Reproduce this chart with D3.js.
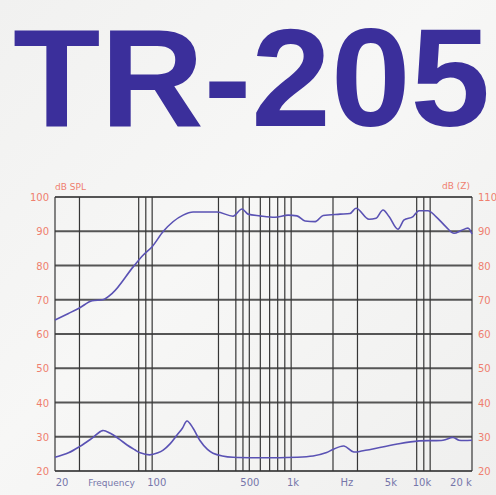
<!DOCTYPE html>
<html><head><meta charset="utf-8">
<script src="https://cdn.jsdelivr.net/npm/d3@7"></script>
<style>html,body{margin:0;padding:0;background:#f3f3f1;}svg{display:block;}</style>
</head><body><div id="chart"></div>
<script>
// ---- data ----
const title = "TR-205";
const splFreq = [20,25,30,37,44,52,73,86,100,120,167,197,293,382,443,489,597,765,950,1100,1260,1490,1700,2250,2650,2930,3630,4080,4580,5060,5870,6490,7530,8310,9650,11000,13000,14850,16700,18700,20000];
const splDb   = [64.1,66,67.6,69.7,70,72,79.6,83,85.5,89.9,94.7,95.6,95.6,94.4,96.5,95,94.5,94.1,94.7,94.5,93,92.8,94.6,95,95.2,96.7,93.5,93.8,96.2,94.3,90.6,93.3,94.3,96,96,94.3,91.3,89.4,90.2,90.9,89.2];
const impFreq = [20,25,30,37,44,50,58,66,75,82,96,110,120,135,151,165,178,197,220,250,274,320,382,1436,1800,2000,2400,2790,3290,5680,8310,12360,14600,16100,20000];
const impDb   = [24,25.3,27.1,29.6,31.8,31,29.3,27.6,26.2,25.3,24.7,25.3,26.1,28,30.5,32.5,34.6,32.5,29,26.3,25.2,24.4,24,24.4,25.4,26.3,27.3,25.6,25.9,27.8,28.8,29,29.8,29,29];
const gridFreqs = [20,30,80,90,100,300,400,450,500,600,700,800,900,1000,2000,3000,8000,9000,10000,20000];
const yTicks = [20,30,40,50,60,70,80,90,100];
const leftLabels = ["20","30","40","50","60","70","80","90","100"];
const rightLabels = ["20","30","40","50","60","70","80","90","110"];
const xLabels = ["20","Frequency","100","500","1k","Hz","5k","10k","20 k"];
const xLabelPos = [22.5,51,108,505,1032,2520,5220,8730,16640];

// ---- layout ----
const W = 496, H = 495;
const L = 55, R = 472, T = 197, B = 471;

const svg = d3.select("#chart").append("svg").attr("width", W).attr("height", H);
const defs = svg.append("defs");
const g = defs.append("linearGradient").attr("id","bg").attr("x1","0").attr("y1","0").attr("x2","1").attr("y2","1");
g.append("stop").attr("offset","0").attr("stop-color","#f1f1f0");
g.append("stop").attr("offset","0.45").attr("stop-color","#f7f7f6");
g.append("stop").attr("offset","1").attr("stop-color","#efefee");
svg.append("rect").attr("width",W).attr("height",H).attr("fill","url(#bg)");

// title
svg.append("text").attr("x", 13).attr("y", 126)
  .attr("font-family", "Liberation Sans, Arial, sans-serif").attr("font-weight", "bold")
  .attr("font-size", 139).attr("fill", "#3b2f9b")
  .attr("textLength", 477).attr("lengthAdjust", "spacingAndGlyphs")
  .text(title);

const x = d3.scaleLog().domain([20, 20000]).range([L, R]);
const y = d3.scaleLinear().domain([20, 100]).range([B, T]);

// horizontal grid
svg.append("g").selectAll("line").data(yTicks).join("line")
  .attr("x1", L).attr("x2", R).attr("y1", d => y(d)).attr("y2", d => y(d))
  .attr("stroke", "#555").attr("stroke-width", 1.9);
// vertical grid
svg.append("g").selectAll("line").data(gridFreqs).join("line")
  .attr("x1", d => x(d)).attr("x2", d => x(d)).attr("y1", T).attr("y2", B)
  .attr("stroke", "#363636").attr("stroke-width", 1.2);

// curves
const smooth = d3.line().x(d => x(d[0])).y(d => y(d[1])).curve(d3.curveMonotoneX);
const sharp = d3.line().x(d => x(d[0])).y(d => y(d[1])).curve(d3.curveCatmullRom.alpha(0.5));
svg.append("path").datum(splFreq.map((f,i)=>[f, splDb[i]]))
  .attr("d", smooth).attr("fill","none").attr("stroke","#5a52b4").attr("stroke-width",1.6);
svg.append("path").datum(impFreq.map((f,i)=>[f, impDb[i]]))
  .attr("d", sharp).attr("fill","none").attr("stroke","#5a52b4").attr("stroke-width",1.6);

// y labels
const lab = "#ef7f6f";
svg.append("g").selectAll("text").data(yTicks).join("text")
  .attr("x", 49).attr("y", d => y(d) + 4).attr("text-anchor","end")
  .attr("font-family","DejaVu Sans, sans-serif").attr("font-size",10).attr("fill",lab)
  .text((d,i) => leftLabels[i]);
svg.append("g").selectAll("text").data(yTicks).join("text")
  .attr("x", 478).attr("y", d => y(d) + 4).attr("text-anchor","start")
  .attr("font-family","DejaVu Sans, sans-serif").attr("font-size",10).attr("fill",lab)
  .text((d,i) => rightLabels[i]);
svg.append("text").attr("x", 55).attr("y", 190).attr("font-family","DejaVu Sans, sans-serif")
  .attr("font-size",9).attr("fill",lab).text("dB SPL");
svg.append("text").attr("x", 470).attr("y", 189).attr("text-anchor","end").attr("font-family","DejaVu Sans, sans-serif")
  .attr("font-size",9).attr("fill",lab).text("dB (Z)");

// x labels
svg.append("g").selectAll("text").data(xLabelPos).join("text")
  .attr("x", d => x(d)).attr("y", 486).attr("text-anchor","middle")
  .attr("font-family","DejaVu Sans, sans-serif").attr("font-size",(d,i) => i === 1 ? 9 : 10).attr("fill","#7676aa")
  .text((d,i) => xLabels[i]);
</script></body></html>
